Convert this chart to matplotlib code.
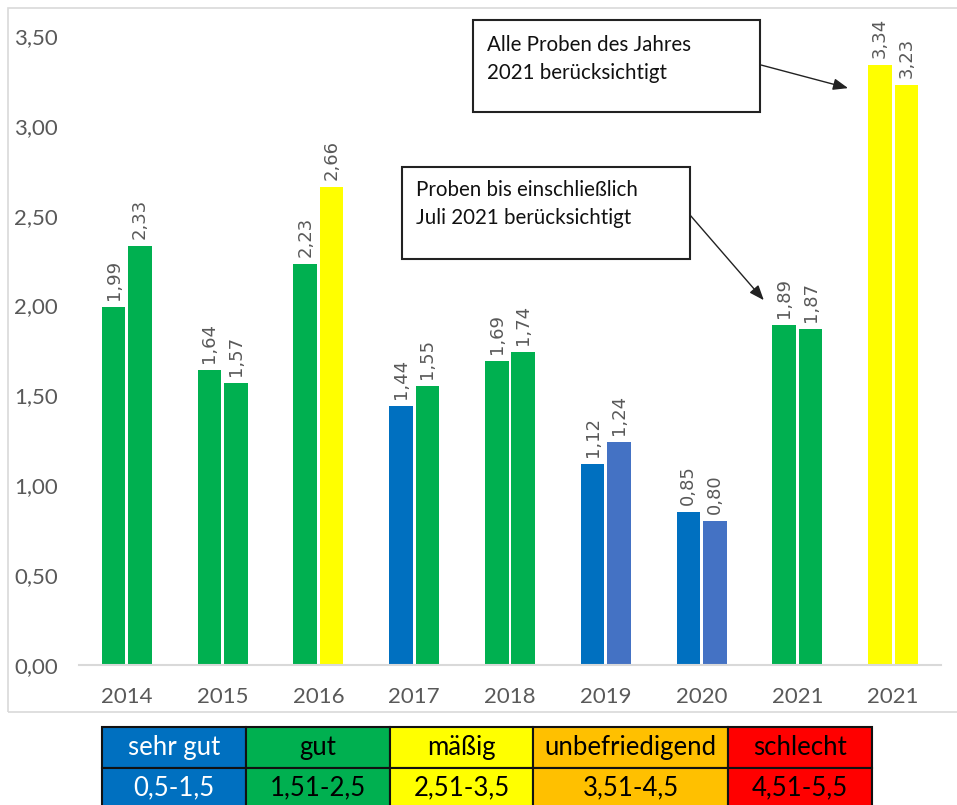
import matplotlib
matplotlib.use("Agg")
import matplotlib.pyplot as plt
from matplotlib.patches import Rectangle
import numpy as np

categories = ["2014", "2015", "2016", "2017", "2018", "2019", "2020", "2021", "2021"]
series_a = [1.99, 1.64, 2.23, 1.44, 1.69, 1.12, 0.85, 1.89, 3.34]
series_b = [2.33, 1.57, 2.66, 1.55, 1.74, 1.24, 0.80, 1.87, 3.23]
y_ticks = [0.0, 0.5, 1.0, 1.5, 2.0, 2.5, 3.0, 3.5]

GREEN, BLUE, BLUE2, YELLOW = "#00B050", "#0070C0", "#4472C4", "#FFFF00"
colors_a = [GREEN, GREEN, GREEN, BLUE, GREEN, BLUE, BLUE, GREEN, YELLOW]
colors_b = [GREEN, GREEN, YELLOW, GREEN, GREEN, BLUE2, BLUE2, GREEN, YELLOW]

legend_header = ["sehr gut", "gut", "mäßig", "unbefriedigend", "schlecht"]
legend_range = ["0,5-1,5", "1,51-2,5", "2,51-3,5", "3,51-4,5", "4,51-5,5"]
legend_colors = ["#0070C0", "#00B050", "#FFFF00", "#FFC000", "#FF0000"]
legend_text_colors = ["white", "black", "black", "black", "black"]

FONT = ["Lato", "DejaVu Sans"]
W, H = 957, 805
fig = plt.figure(figsize=(W / 100, H / 100), dpi=100)

def fx(px):
    return px / W

def fy(py):
    return 1 - py / H

# outer chart frame
fig.patches.append(Rectangle((fx(8), fy(712)), fx(990) - fx(8), fy(8) - fy(712),
                             transform=fig.transFigure, fill=False,
                             edgecolor="#D9D9D9", linewidth=1.2))

ax = fig.add_axes([fx(79), fy(665), fx(941) - fx(79), fy(36) - fy(665)])
x = np.arange(len(categories))
bw = 0.245
off = 0.138
ax.bar(x - off, series_a, width=bw, color=colors_a, zorder=2)
ax.bar(x + off, series_b, width=bw, color=colors_b, zorder=2)

for xi, v in zip(x - off, series_a):
    ax.annotate(f"{v:.2f}".replace(".", ","), (xi, v), xytext=(0, 5),
                textcoords="offset points", rotation=90, ha="center", va="bottom",
                fontsize=13, color="#595959", family="DejaVu Sans")
for xi, v in zip(x + off, series_b):
    ax.annotate(f"{v:.2f}".replace(".", ","), (xi, v), xytext=(0, 5),
                textcoords="offset points", rotation=90, ha="center", va="bottom",
                fontsize=13, color="#595959", family="DejaVu Sans")

ax.set_xlim(-0.5, len(categories) - 0.5)
ax.set_ylim(0, 3.5)
ax.set_yticks(y_ticks)
ax.set_yticklabels([f"{t:.2f}".replace(".", ",") for t in y_ticks])
ax.set_xticks(x)
ax.set_xticklabels(categories)
for lbl in ax.get_xticklabels() + ax.get_yticklabels():
    lbl.set_family(FONT)
    lbl.set_fontsize(16)
    lbl.set_color("#595959")
ax.tick_params(axis="both", length=0)
ax.tick_params(axis="y", pad=15)
ax.tick_params(axis="x", pad=16)
for s in ["top", "right", "left"]:
    ax.spines[s].set_visible(False)
ax.spines["bottom"].set_color("#D9D9D9")
ax.spines["bottom"].set_linewidth(1.5)
ax.set_facecolor("none")

# annotation boxes
def box(x0, y0, x1, y1, lines, ty):
    fig.patches.append(Rectangle((fx(x0), fy(y1)), fx(x1) - fx(x0), fy(y0) - fy(y1),
                                 transform=fig.transFigure, facecolor="white",
                                 edgecolor="#222222", linewidth=1.5, zorder=5))
    for line, yy in zip(lines, ty):
        fig.text(fx(x0 + 14), fy(yy), line, ha="left", va="center",
                 fontsize=14.8, family=FONT, color="#111111", zorder=6)

box(473, 20, 760, 112, ["Alle Proben des Jahres", "2021 berücksichtigt"], [45, 73])
box(402, 167, 690, 259, ["Proben bis einschließlich", "Juli 2021 berücksichtigt"], [190, 218])

arrow = dict(arrowstyle="-|>,head_length=0.9,head_width=0.35", color="#222222", lw=1.0,
             shrinkA=0, shrinkB=0)
ax.annotate("", xy=(7.53, 3.21), xycoords="data",
            xytext=(fx(761), fy(65)), textcoords="figure fraction", arrowprops=arrow)
ax.annotate("", xy=(6.65, 2.03), xycoords="data",
            xytext=(fx(690), fy(215)), textcoords="figure fraction", arrowprops=arrow)

# legend table
col_px = [102, 246, 390, 533, 728, 872]
rows = [(727, 768, legend_header), (768, 808, legend_range)]
for (y0, y1, texts) in rows:
    for i, t in enumerate(texts):
        fig.patches.append(Rectangle((fx(col_px[i]), fy(y1)), fx(col_px[i + 1]) - fx(col_px[i]),
                                     fy(y0) - fy(y1), transform=fig.transFigure,
                                     facecolor=legend_colors[i], edgecolor="#111111",
                                     linewidth=1.5))
        fig.text((fx(col_px[i]) + fx(col_px[i + 1])) / 2, (fy(y0) + fy(y1)) / 2, t,
                 ha="center", va="center", fontsize=18.5, family=FONT,
                 color=legend_text_colors[i])

fig.savefig("out.png", dpi=100)
